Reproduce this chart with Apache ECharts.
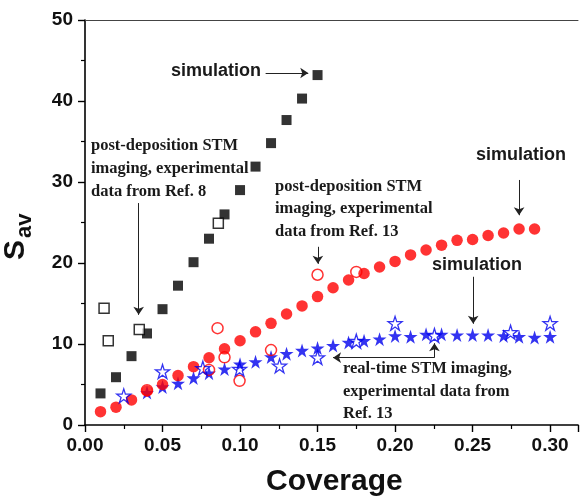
<!DOCTYPE html>
<html>
<head>
<meta charset="utf-8">
<script src="https://cdn.jsdelivr.net/npm/echarts@6/dist/echarts.min.js"></script>
<style>
  html, body { margin: 0; padding: 0; background: #ffffff; }
  #chart { width: 581px; height: 499px; }
</style>
</head>
<body>
<div id="chart"></div>
<script>
// Simulated average island size vs coverage (three simulation runs)
const squareSimX = [0.01, 0.02, 0.03, 0.04, 0.05, 0.06, 0.07, 0.08, 0.09, 0.10, 0.11, 0.12, 0.13, 0.14, 0.15];
const squareSimY = [3.9, 5.9, 8.5, 11.3, 14.3, 17.2, 20.1, 23.0, 26.0, 29.0, 31.9, 34.8, 37.65, 40.3, 43.2];

const circleSimX = [0.01, 0.02, 0.03, 0.04, 0.05, 0.06, 0.07, 0.08, 0.09, 0.10, 0.11, 0.12, 0.13, 0.14, 0.15,
                    0.16, 0.17, 0.18, 0.19, 0.20, 0.21, 0.22, 0.23, 0.24, 0.25, 0.26, 0.27, 0.28, 0.29];
const circleSimY = [1.65, 2.2, 3.1, 4.2, 5.0, 6.1, 7.2, 8.3, 9.4, 10.4, 11.5, 12.55, 13.7, 14.7, 15.85,
                    16.95, 17.9, 18.7, 19.5, 20.2, 21.0, 21.6, 22.2, 22.8, 22.9, 23.4, 23.7, 24.2, 24.2];

const starSimX = [0.04, 0.05, 0.06, 0.07, 0.08, 0.09, 0.10, 0.11, 0.12, 0.13, 0.14, 0.15, 0.16, 0.17,
                  0.18, 0.19, 0.20, 0.21, 0.22, 0.23, 0.24, 0.25, 0.26, 0.27, 0.28, 0.29, 0.30];
const starSimY = [4.0, 4.7, 5.15, 5.8, 6.4, 6.9, 7.5, 7.8, 8.4, 8.8, 9.2, 9.5, 9.8, 10.2,
                  10.4, 10.6, 11.0, 10.9, 11.2, 11.2, 11.1, 11.1, 11.1, 11.0, 10.9, 10.8, 10.9];

// Experimental data
const squareExpX = [0.0123, 0.015, 0.035, 0.086];
const squareExpY = [14.4, 10.4, 11.8, 24.9];

const circleExpX = [0.04, 0.08, 0.0855, 0.09, 0.0997, 0.12, 0.15, 0.175];
const circleExpY = [4.3, 6.8, 11.95, 8.35, 5.45, 9.25, 18.55, 18.9];

const starExpX = [0.025, 0.05, 0.076, 0.0997, 0.1255, 0.15, 0.175, 0.20, 0.2254, 0.2745, 0.30];
const starExpY = [3.6, 6.6, 7.0, 6.9, 7.3, 8.33, 10.35, 12.55, 11.05, 11.45, 12.55];

// Axis ticks
const xTicks = [0.00, 0.05, 0.10, 0.15, 0.20, 0.25, 0.30];
const yTicks = [0, 10, 20, 30, 40, 50];
const xMax = 0.318;

const zip = (xs, ys) => xs.map((x, i) => [x, ys[i]]);

const STAR = 'path://M0,-1 L0.2245,-0.309 L0.9511,-0.309 L0.3633,0.118 L0.5878,0.809 L0,0.382 L-0.5878,0.809 L-0.3633,0.118 L-0.9511,-0.309 L-0.2245,-0.309 Z';

const sans = "'Liberation Sans', Arial, sans-serif";
const serif = "'Liberation Serif', 'Times New Roman', serif";
const ink = '#1a1a1a';

// Annotation arrows, in data coordinates
const arrows = [
  [[0.1165, 43.46], [0.1440, 43.46]],
  [[0.0346, 27.4], [0.0346, 13.6]],
  [[0.1502, 22.0], [0.1502, 19.9]],
  [[0.2800, 30.25], [0.2800, 25.9]],
  [[0.2504, 18.3], [0.2504, 12.5]],
  [[0.2254, 8.31], [0.1600, 8.31]],
  [[0.2254, 8.31], [0.2254, 10.1]]
];

const chart = echarts.init(document.getElementById('chart'), null, { renderer: 'canvas' });

const xLabelSet = new Set(xTicks.map(v => v.toFixed(2)));

chart.setOption({
  animation: false,
  backgroundColor: '#ffffff',
  grid: { left: 85, top: 20, right: 0, bottom: 74 },
  xAxis: [
    {
      type: 'value', min: 0, max: xMax, interval: 0.05,
      axisLine: { show: true, onZero: false, lineStyle: { color: '#000', width: 1.6 } },
      axisTick: { show: true, inside: false, length: 7, lineStyle: { color: '#000', width: 1.4 } },
      minorTick: { show: true, splitNumber: 2, length: 4, lineStyle: { color: '#000', width: 1.2 } },
      splitLine: { show: false },
      axisLabel: {
        margin: 11, color: '#111', fontFamily: sans, fontWeight: 'bold', fontSize: 19,
        formatter: v => { const s = v.toFixed(2); return xLabelSet.has(s) ? s : ''; }
      }
    },
    {
      // plain frame line along the top edge
      type: 'value', position: 'top', min: 0, max: xMax,
      axisLine: { show: true, onZero: false, lineStyle: { color: '#444', width: 1 } },
      axisTick: { show: false }, axisLabel: { show: false }, splitLine: { show: false }
    }
  ],
  yAxis: {
    type: 'value', min: 0, max: 50, interval: 10,
    axisLine: { show: true, onZero: false, lineStyle: { color: '#000', width: 1.6 } },
    axisTick: { show: true, inside: false, length: 7, lineStyle: { color: '#000', width: 1.4 } },
    minorTick: { show: true, splitNumber: 2, length: 4, lineStyle: { color: '#000', width: 1.2 } },
    splitLine: { show: false },
    axisLabel: {
      margin: 12, color: '#111', fontFamily: sans, fontWeight: 'bold', fontSize: 19,
      formatter: v => yTicks.includes(v) ? String(v) : ''
    }
  },
  series: [
    {
      name: 'Ref. 8 simulation', type: 'scatter', symbol: 'rect', symbolSize: 10,
      itemStyle: { color: '#000' }, data: zip(squareSimX, squareSimY), z: 2
    },
    {
      name: 'real-time simulation', type: 'scatter', symbol: STAR, symbolSize: 14,
      itemStyle: { color: '#0000ee' }, data: zip(starSimX, starSimY), z: 3
    },
    {
      name: 'post-deposition simulation', type: 'scatter', symbol: 'circle', symbolSize: 11.5,
      itemStyle: { color: '#ff0000' }, data: zip(circleSimX, circleSimY), z: 4
    },
    {
      name: 'Ref. 8 experiment', type: 'scatter', symbol: 'rect', symbolSize: 10,
      itemStyle: { color: '#ffffff', borderColor: '#000', borderWidth: 1.5 },
      data: zip(squareExpX, squareExpY), z: 5
    },
    {
      name: 'Ref. 13 post-deposition', type: 'scatter', symbol: 'circle', symbolSize: 11,
      itemStyle: { color: 'rgba(255,255,255,0)', borderColor: '#ff0000', borderWidth: 1.5 },
      data: zip(circleExpX, circleExpY), z: 6
    },
    {
      name: 'Ref. 13 real-time', type: 'scatter', symbol: STAR, symbolSize: 14,
      itemStyle: { color: 'rgba(255,255,255,0)', borderColor: '#0000ee', borderWidth: 1.3 },
      data: zip(starExpX, starExpY), z: 7
    },
    {
      name: 'annotations', type: 'scatter', data: [], silent: true,
      markLine: {
        silent: true, animation: false,
        symbol: ['none', 'arrow'], symbolSize: 8,
        label: { show: false },
        lineStyle: { color: '#222', width: 1, type: 'solid' },
        emphasis: { disabled: true },
        data: arrows.map(a => [{ coord: a[0] }, { coord: a[1] }])
      }
    }
  ],
  graphic: [
    { type: 'text', left: 266, top: 467,
      style: { text: 'Coverage', font: "bold 30px " + sans, fill: '#111' } },
    { type: 'text', x: 31, y: 260, rotation: Math.PI / 2,
      style: { text: 'S', font: "bold 30px " + sans, fill: '#111', textAlign: 'left', textVerticalAlign: 'bottom' } },
    { type: 'text', x: 36, y: 238, rotation: Math.PI / 2,
      style: { text: 'av', font: "bold 22px " + sans, fill: '#111', textAlign: 'left', textVerticalAlign: 'bottom' } },

    { type: 'text', left: 171, top: 62,
      style: { text: 'simulation', font: "bold 18px " + sans, fill: ink } },
    { type: 'text', left: 476, top: 146,
      style: { text: 'simulation', font: "bold 18px " + sans, fill: ink } },
    { type: 'text', left: 432, top: 256,
      style: { text: 'simulation', font: "bold 18px " + sans, fill: ink } },

    { type: 'text', left: 91, top: 134,
      style: { text: 'post-deposition STM\nimaging, experimental\ndata from Ref. 8',
               font: "bold 16.5px " + serif, lineHeight: 23, fill: ink } },
    { type: 'text', left: 275, top: 175,
      style: { text: 'post-deposition STM\nimaging, experimental\ndata from Ref. 13',
               font: "bold 16.5px " + serif, lineHeight: 22.5, fill: ink } },
    { type: 'text', left: 343, top: 358,
      style: { text: 'real-time STM imaging,\nexperimental data from\nRef. 13',
               font: "bold 16.5px " + serif, lineHeight: 22.4, fill: ink } }
  ]
});
</script>
</body>
</html>
